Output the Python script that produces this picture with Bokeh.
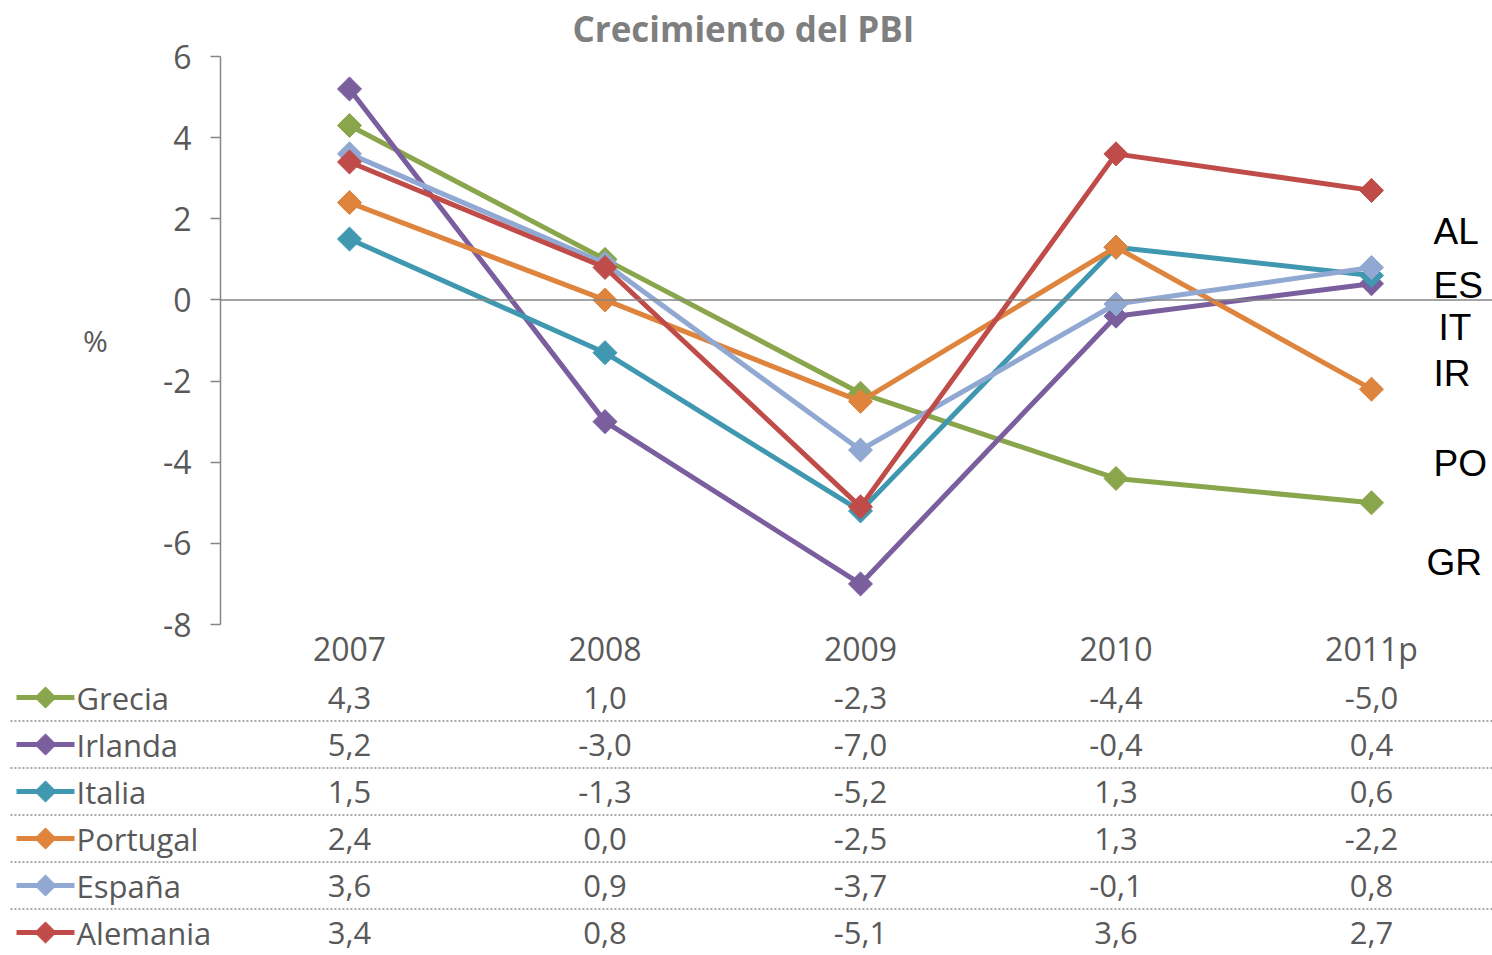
import numpy as np
from bokeh.plotting import figure
from bokeh.layouts import column
from bokeh.models import Range1d, FixedTicker, Span, ColumnDataSource
from bokeh.core.properties import value
from bokeh.embed import file_html
from bokeh.resources import INLINE

# ---------------- data ----------------
years = ["2007", "2008", "2009", "2010", "2011p"]
countries = ["Grecia", "Irlanda", "Italia", "Portugal", "España", "Alemania"]
grecia = [4.3, 1.0, -2.3, -4.4, -5.0]
irlanda = [5.2, -3.0, -7.0, -0.4, 0.4]
italia = [1.5, -1.3, -5.2, 1.3, 0.6]
portugal = [2.4, 0.0, -2.5, 1.3, -2.2]
espana = [3.6, 0.9, -3.7, -0.1, 0.8]
alemania = [3.4, 0.8, -5.1, 3.6, 2.7]
series = [grecia, irlanda, italia, portugal, espana, alemania]
colors = ["#8AA64C", "#7A5E9E", "#3F98B0", "#DE843C", "#91A9D2", "#BF4C49"]
yticks = [-8, -6, -4, -2, 0, 2, 4, 6]
side_labels = ["AL", "ES", "IT", "IR", "PO", "GR"]
side_label_y = [1.69, 0.35, -0.68, -1.81, -4.02, -6.48]
side_label_dx = [0, 0, 5, 0, 0, -7]

FONT = "Open Sans"
GREY = "#595959"
AXIS = "#868686"
W = 1492
X_RIGHT = 4.4736
xi = list(range(len(years)))

# ---------------- chart ----------------
p = figure(width=W, height=672, output_backend="svg", toolbar_location=None,
           x_range=Range1d(-0.50489, X_RIGHT), y_range=Range1d(-8, 6),
           min_border_left=220, min_border_right=0, min_border_top=56,
           min_border_bottom=47, frame_align=False,
           title="Crecimiento del PBI")
p.outline_line_color = None
p.xgrid.visible = False
p.ygrid.visible = False
p.background_fill_color = "white"

p.title.align = "left"
p.title.vertical_align = "top"
p.title.offset = 352
p.title.text_font = FONT
p.title.text_font_size = "35px"
p.title.text_font_style = "bold"
p.title.text_color = "#7F7F7F"
p.title.standoff = 6

# y axis
ya = p.yaxis[0]
ya.ticker = FixedTicker(ticks=yticks)
ya.major_label_overrides = {v: str(v) for v in yticks}
ya.major_tick_out = 10
ya.major_tick_in = 0
ya.minor_tick_out = 0
ya.minor_tick_in = 0
ya.axis_line_color = AXIS
ya.axis_line_width = 1.5
ya.major_tick_line_color = AXIS
ya.major_tick_line_width = 1.5
ya.major_label_text_font = FONT
ya.major_label_text_font_size = "32px"
ya.major_label_text_color = GREY
ya.major_label_standoff = 19
ya.axis_label = "%"
ya.axis_label_orientation = "horizontal"
ya.axis_label_text_font = FONT
ya.axis_label_text_font_size = "30px"
ya.axis_label_text_font_style = "normal"
ya.axis_label_text_color = GREY
ya.axis_label_standoff = 52

# x axis
xa = p.xaxis[0]
xa.ticker = FixedTicker(ticks=xi)
xa.major_label_overrides = {i: y for i, y in enumerate(years)}
xa.axis_line_color = None
xa.major_tick_line_color = None
xa.minor_tick_line_color = None
xa.major_label_text_font = FONT
xa.major_label_text_font_size = "32px"
xa.major_label_text_color = GREY
xa.major_label_standoff = -4

p.add_layout(Span(location=0, dimension="width", line_color=AXIS, line_width=1.5))

for vals, col in zip(series, colors):
    src = ColumnDataSource(dict(x=xi, y=vals))
    p.line("x", "y", source=src, line_color=col, line_width=5)
    p.scatter("x", "y", source=src, marker="square", angle=np.pi / 4, size=17,
              fill_color=col, line_color=col, line_width=1)

lab_src = ColumnDataSource(dict(x=[4.2427] * len(side_labels), y=side_label_y,
                                t=side_labels, dx=side_label_dx))
p.text("x", "y", text="t", source=lab_src, x_offset="dx", text_font=value("Liberation Sans"),
       text_font_size="37px", text_color="black", text_baseline="middle", text_align="left")

# ---------------- table ----------------
# rows 47 px apart, first row 25 px below the top of this panel
t = figure(width=W, height=283, output_backend="svg", toolbar_location=None,
           x_range=Range1d(-1.36595, X_RIGHT), y_range=Range1d(-5.489, 0.532),
           min_border=0, x_axis_type=None, y_axis_type=None, frame_align=False)
t.outline_line_color = None
t.xgrid.visible = False
t.ygrid.visible = False

nrows = len(countries)
for r in range(nrows - 1):
    t.line([-1.327, X_RIGHT], [-r - 0.5, -r - 0.5], line_color="#8C8C8C",
           line_width=1.5, line_dash="2 2")

for r, (name, col, vals) in enumerate(zip(countries, colors, series)):
    t.line([-1.3033, -1.0763], [-r, -r], line_color=col, line_width=5)
    t.scatter([-1.1898], [-r], marker="square", angle=np.pi / 4, size=15,
              fill_color=col, line_color=col)
    t.text([-1.0685], [-r], text=[name], text_font=value(FONT), text_font_size="31px",
           text_color=GREY, text_align="left", text_baseline="middle")
    t.text(xi, [-r] * len(vals), text=[f"{v:.1f}".replace(".", ",") for v in vals],
           text_font=value(FONT), text_font_size="31px", text_color=GREY,
           text_align="center", text_baseline="middle")

layout = column(p, t, spacing=0)
open("out.html", "w").write(file_html(layout, INLINE))
